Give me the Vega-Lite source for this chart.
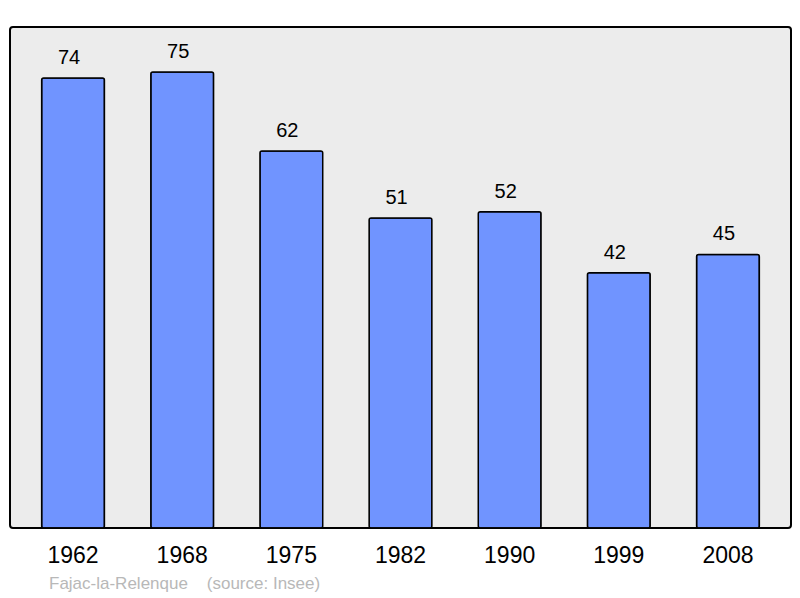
{
  "$schema": "https://vega.github.io/schema/vega-lite/v6.json",
  "width": 781,
  "height": 501,
  "autosize": {"type": "none"},
  "padding": {"left": 10, "top": 27, "right": 9, "bottom": 70},
  "background": "#ffffff",
  "config": {
    "font": "Liberation Sans",
    "view": {"fill": "#ececec", "stroke": "#000000", "strokeWidth": 2, "cornerRadius": 3}
  },
  "title": {
    "text": "Fajac-la-Relenque\u00a0\u00a0\u00a0\u00a0(source: Insee)",
    "orient": "bottom",
    "anchor": "start",
    "dx": 39,
    "offset": 9,
    "fontSize": 17,
    "fontWeight": "normal",
    "color": "#b8b8b8",
    "font": "Liberation Sans"
  },
  "data": {
    "values": [
      {"year": "1962", "pop": 74},
      {"year": "1968", "pop": 75},
      {"year": "1975", "pop": 62},
      {"year": "1982", "pop": 51},
      {"year": "1990", "pop": 52},
      {"year": "1999", "pop": 42},
      {"year": "2008", "pop": 45}
    ]
  },
  "encoding": {
    "x": {
      "field": "year",
      "type": "nominal",
      "sort": null,
      "scale": {"paddingInner": 0.425, "paddingOuter": 0.29},
      "axis": {
        "title": null,
        "domain": false,
        "ticks": false,
        "grid": false,
        "labelAngle": 0,
        "labelFontSize": 23,
        "labelColor": "#000000",
        "labelPadding": 16,
        "labelFont": "Liberation Sans"
      }
    },
    "y": {
      "field": "pop",
      "type": "quantitative",
      "scale": {"domain": [0, 82.4], "nice": false, "zero": true},
      "axis": null
    }
  },
  "layer": [
    {
      "mark": {"type": "bar", "fill": "#7094ff", "stroke": "#000000", "strokeWidth": 1.5, "cornerRadius": 2}
    },
    {
      "mark": {"type": "text", "baseline": "alphabetic", "dy": -14, "dx": -4, "fontSize": 20, "color": "#000000", "font": "Liberation Sans"},
      "encoding": {"text": {"field": "pop", "type": "quantitative"}}
    }
  ]
}
